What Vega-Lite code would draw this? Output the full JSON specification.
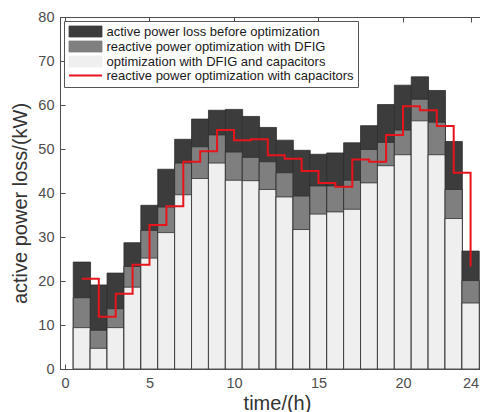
{
  "$schema": "https://vega.github.io/schema/vega-lite/v6.json",
  "width": 421,
  "height": 352,
  "autosize": {"type": "none"},
  "padding": {"left": 60, "top": 17, "right": 0, "bottom": 43},
  "config": {
    "font": "Liberation Sans",
    "view": {"stroke": "#4d4d4d", "strokeWidth": 1},
    "axis": {
      "grid": false,
      "domainColor": "#4d4d4d",
      "tickColor": "#4d4d4d",
      "labelColor": "#4d4d4d",
      "titleColor": "#333333",
      "labelFontSize": 14.5,
      "titleFontSize": 20,
      "titleFontWeight": "normal",
      "tickSize": -5,
      "labelFlush": false
    }
  },
  "data": {
    "values": [
      {"t": 1, "before": 24.3, "dfig": 16.2, "both": 9.4, "cap": 20.5},
      {"t": 2, "before": 19.1, "dfig": 8.8, "both": 4.7, "cap": 11.9},
      {"t": 3, "before": 21.8, "dfig": 13.7, "both": 9.4, "cap": 17.1},
      {"t": 4, "before": 28.7, "dfig": 23.3, "both": 18.6, "cap": 23.7},
      {"t": 5, "before": 37.2, "dfig": 31.5, "both": 25.2, "cap": 32.7},
      {"t": 6, "before": 45.4, "dfig": 36.8, "both": 31.0, "cap": 37.0},
      {"t": 7, "before": 52.2, "dfig": 46.8, "both": 39.6, "cap": 47.1},
      {"t": 8, "before": 56.8, "dfig": 50.5, "both": 43.3, "cap": 49.5},
      {"t": 9, "before": 58.8, "dfig": 53.2, "both": 46.8, "cap": 54.3},
      {"t": 10, "before": 59.0, "dfig": 49.3, "both": 42.9, "cap": 52.0},
      {"t": 11, "before": 57.4, "dfig": 48.1, "both": 42.8, "cap": 52.2},
      {"t": 12, "before": 54.9, "dfig": 47.1, "both": 40.8, "cap": 48.6},
      {"t": 13, "before": 52.0, "dfig": 44.6, "both": 39.1, "cap": 47.8},
      {"t": 14, "before": 49.7, "dfig": 39.3, "both": 31.7, "cap": 45.0},
      {"t": 15, "before": 48.8, "dfig": 41.6, "both": 35.2, "cap": 42.3},
      {"t": 16, "before": 49.1, "dfig": 41.6, "both": 35.7, "cap": 41.4},
      {"t": 17, "before": 51.4, "dfig": 42.9, "both": 36.3, "cap": 47.6},
      {"t": 18, "before": 55.3, "dfig": 49.9, "both": 42.3, "cap": 47.1},
      {"t": 19, "before": 60.1, "dfig": 51.5, "both": 46.2, "cap": 53.2},
      {"t": 20, "before": 64.5, "dfig": 54.3, "both": 48.7, "cap": 59.7},
      {"t": 21, "before": 66.4, "dfig": 61.3, "both": 56.4, "cap": 58.8},
      {"t": 22, "before": 63.3, "dfig": 56.1, "both": 48.7, "cap": 55.2},
      {"t": 23, "before": 51.7, "dfig": 40.8, "both": 34.2, "cap": 44.6},
      {"t": 24, "before": 26.8, "dfig": 20.1, "both": 15.0, "cap": 23.3}
    ]
  },
  "resolve": {"axis": {"x": "independent"}},
  "layer": [
    {
      "transform": [{"fold": ["before", "dfig", "both"], "as": ["series", "loss"]}],
      "mark": {"type": "bar", "width": 17.3, "stroke": "#2e2e2e", "strokeWidth": 0.8, "clip": true},
      "encoding": {
        "x": {
          "field": "t", "type": "quantitative",
          "scale": {"domain": [0, 24.32], "nice": false, "zero": false},
          "axis": {"values": [0, 5, 10, 15, 20, 24], "title": "time/(h)", "labelPadding": 12, "titleX": 217, "titleY": 24, "titleBaseline": "top"}
        },
        "y": {
          "field": "loss", "type": "quantitative", "stack": null,
          "scale": {"domain": [0, 80], "nice": false},
          "axis": {"values": [0, 10, 20, 30, 40, 50, 60, 70, 80], "title": "active power loss/(kW)", "labelPadding": 11, "titleX": -30, "titleY": 186, "titleBaseline": "bottom"}
        },
        "color": {
          "field": "series", "type": "nominal",
          "scale": {"domain": ["before", "dfig", "both", "cap"], "range": ["#3c3c3c", "#7f7f7f", "#efefef", "#e8141b"]},
          "legend": {
            "title": null,
            "orient": "top-left",
            "offset": 4,
            "padding": 4,
            "strokeColor": "#555555",
            "fillColor": "#ffffff",
            "labelFontSize": 13,
            "labelColor": "#1a1a1a",
            "symbolSize": 121,
            "labelOffset": 25.5,
            "rowPadding": 0,
            "labelLimit": 400,
            "labelExpr": "datum.value === 'before' ? 'active power loss before optimization' : datum.value === 'dfig' ? 'reactive power optimization with DFIG' : datum.value === 'both' ? 'optimization with DFIG and capacitors' : 'reactive power optimization with capacitors'",
            "encoding": {
              "symbols": {
                "shape": {"value": {"expr": "datum.value === 'cap' ? 'M-1,0H5' : 'M-1,-1H5V1H-1Z'"}},
                "fill": {"value": {"expr": "datum.value === 'before' ? '#3c3c3c' : datum.value === 'dfig' ? '#7f7f7f' : datum.value === 'cap' ? 'transparent' : '#efefef'"}},
                "stroke": {"value": {"expr": "datum.value === 'cap' ? '#e8141b' : '#333333'"}},
                "strokeWidth": {"value": {"expr": "datum.value === 'cap' ? 2 : 0.8"}},
                "opacity": {"value": 1}
              }
            }
          }
        }
      }
    },
    {
      "mark": {"type": "line", "interpolate": "step-after", "strokeWidth": 2, "clip": true},
      "encoding": {
        "x": {
          "field": "t", "type": "quantitative",
          "axis": {"orient": "top", "labels": false, "title": null, "domain": false, "values": [0, 5, 10, 15, 20, 24]}
        },
        "y": {"field": "cap", "type": "quantitative", "axis": {"title": "active power loss/(kW)"}},
        "color": {"datum": "cap", "type": "nominal"}
      }
    }
  ]
}
